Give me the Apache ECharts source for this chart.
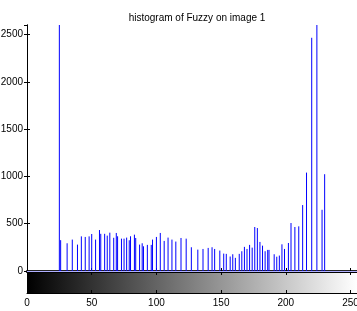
<!DOCTYPE html>
<html><head><meta charset="utf-8">
<script src="https://cdn.jsdelivr.net/npm/echarts@6/dist/echarts.min.js"></script>
<style>html,body{margin:0;padding:0;background:#fff}#c{width:357px;height:311px}</style>
</head><body><div id="c"></div>
<script>
var titleText = 'histogram of Fuzzy on image 1';
var bins = [25, 26, 31, 35, 39, 42, 45, 48, 50, 53, 56, 57, 60, 62, 64, 67, 69, 70, 73, 75, 77, 79, 80, 83, 84, 87, 89, 90, 93, 96, 97, 100, 103, 106, 109, 112, 115, 119, 123, 127, 132, 136, 140, 143, 145, 149, 152, 154, 157, 159, 161, 164, 166, 168, 170, 172, 174, 176, 178, 180, 182, 184, 186, 187, 191, 193, 195, 197, 199, 202, 204, 207, 210, 213, 216, 220, 224, 228, 230];
var counts = [3000, 326, 293, 332, 279, 366, 360, 366, 391, 332, 433, 393, 393, 374, 405, 351, 402, 367, 342, 342, 353, 325, 367, 384, 349, 279, 293, 261, 276, 276, 332, 360, 402, 318, 353, 332, 311, 349, 342, 251, 226, 233, 244, 251, 233, 216, 184, 181, 153, 177, 139, 181, 209, 255, 233, 276, 247, 465, 454, 307, 268, 209, 223, 223, 177, 151, 163, 282, 233, 296, 507, 465, 472, 697, 1040, 2465, 3000, 647, 1023];
var xTicks = [0, 50, 100, 150, 200, 250];
var yTicks = [0, 500, 1000, 1500, 2000, 2500];
var xMax = 255, yMax = 2600;

var data = bins.map(function (b, i) { return [b, counts[i]]; });
var chart = echarts.init(document.getElementById('c'), null, {renderer: 'canvas'});
var font = 'Liberation Sans, Arial, sans-serif';
function renderItem(params, api) {
  var x = api.value(0), v = api.value(1);
  var p0 = api.coord([x, 0]);
  var p1 = api.coord([x, v]);
  var cs = params.coordSys;
  var yTop = Math.max(p1[1], cs.y);
  return {type: 'line', shape: {x1: p0[0], y1: p0[1], x2: p1[0], y2: yTop},
    style: {stroke: '#0000ff', lineWidth: 1}};
}
var tickX = {show: true, inside: true, length: 3, lineStyle: {color: '#000'}};
var line = {show: true, lineStyle: {color: '#000', width: 1}};
chart.setOption({
  animation: false,
  title: {text: titleText, left: 192, top: 8, textAlign: 'center',
    textStyle: {fontFamily: font, fontSize: 10, fontWeight: 'normal', color: '#000'}},
  grid: [
    {left: 27, top: 25, width: 330, height: 246, show: false, outerBoundsMode: 'none', containLabel: false},
    {left: 27, top: 272, width: 330, height: 21, show: true, borderWidth: 0, outerBoundsMode: 'none', containLabel: false,
      backgroundColor: new echarts.graphic.LinearGradient(0, 0, 1, 0, [{offset: 0, color: '#000'}, {offset: 1, color: '#fff'}])}
  ],
  xAxis: [
    {gridIndex: 0, type: 'value', min: 0, max: xMax, interval: 50, position: 'bottom',
      axisLine: {show: false}, axisTick: tickX, axisLabel: {show: false}, splitLine: {show: false}},
    {gridIndex: 0, type: 'value', min: 0, max: xMax, interval: 50, position: 'top',
      axisLine: {show: true, lineStyle: {color: '#222', width: 2}}, axisTick: tickX, axisLabel: {show: false}, splitLine: {show: false}},
    {gridIndex: 1, type: 'value', min: 0, max: xMax, interval: 50, position: 'bottom',
      axisLine: line, axisTick: tickX, splitLine: {show: false},
      axisLabel: {show: true, margin: 5, fontFamily: font, fontSize: 10, color: '#000',
        showMaxLabel: true, formatter: function (v) { return xTicks.indexOf(v) >= 0 ? String(v) : ''; }}},
    {gridIndex: 1, type: 'value', min: 0, max: xMax, interval: 50, position: 'top',
      axisLine: {show: true, lineStyle: {color: '#000', width: 2}}, axisTick: tickX, axisLabel: {show: false}, splitLine: {show: false}}
  ],
  yAxis: [
    {gridIndex: 0, type: 'value', min: 0, max: yMax, interval: 500, position: 'left',
      axisLine: line, axisTick: tickX, splitLine: {show: false},
      axisLabel: {show: true, margin: 4, fontFamily: font, fontSize: 10, color: '#000', showMaxLabel: false,
        formatter: function (v) { return yTicks.indexOf(v) >= 0 ? String(v) : ''; }}},
    {gridIndex: 0, type: 'value', min: 0, max: yMax, interval: 500, position: 'right',
      axisLine: line, axisTick: tickX, axisLabel: {show: false}, splitLine: {show: false}},
    {gridIndex: 1, type: 'value', min: 0, max: 1, position: 'left',
      axisLine: line, axisTick: {show: false}, axisLabel: {show: false}, splitLine: {show: false}}
  ],
  series: [{
    type: 'custom', coordinateSystem: 'cartesian2d', xAxisIndex: 0, yAxisIndex: 0,
    renderItem: renderItem, data: data, encode: {x: 0, y: 1}, silent: true,
    markLine: {silent: true, symbol: 'none', label: {show: false}, animation: false,
      lineStyle: {color: '#b0b0ff', type: 'solid', width: 1}, data: [{yAxis: 0}]}
  }]
});
</script></body></html>
